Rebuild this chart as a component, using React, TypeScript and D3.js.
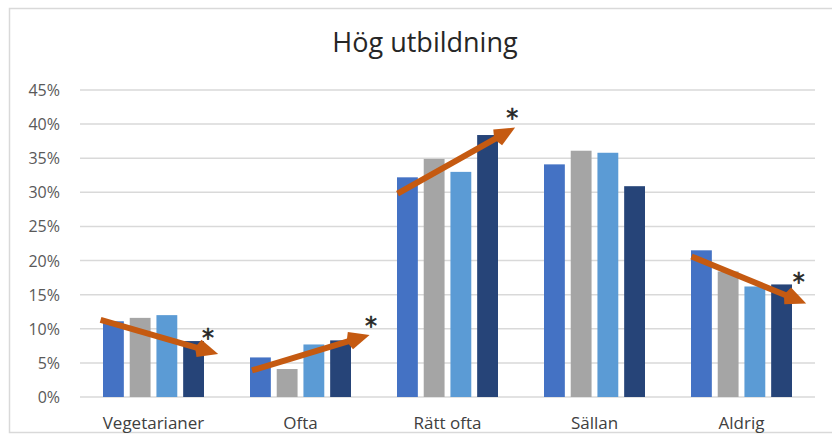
import * as d3 from "d3";
import React, { useEffect, useRef } from "react";

const categories = ["Vegetarianer", "Ofta", "Rätt ofta", "Sällan", "Aldrig"];
const seriesNames = ["s1", "s2", "s3", "s4"];
const seriesColors = ["#4472C4", "#A5A5A5", "#5B9BD5", "#264478"];
// values in percent, one array per series
const series1 = [11.1, 5.8, 32.2, 34.1, 21.5];
const series2 = [11.6, 4.1, 34.9, 36.1, 18.4];
const series3 = [12.0, 7.7, 33.0, 35.8, 16.2];
const series4 = [8.2, 8.3, 38.4, 30.9, 16.5];
const yTicks = [0, 5, 10, 15, 20, 25, 30, 35, 40, 45];

// trend arrows: category index, x offset (fraction of band), percent value
const arrowCat = [0, 1, 2, 4];
const arrowFrom = [[-0.36, 11.3], [-0.33, 3.9], [-0.34, 29.8], [-0.34, 20.6]];
const arrowTo = [[0.44, 6.3], [0.47, 9.1], [0.46, 39.5], [0.44, 13.7]];
// significance marker next to each arrow head (band fraction, percent)
const starAt = [[0.37, 8.8], [0.48, 10.5], [0.44, 41.1], [0.39, 17.0]];

const W = 832;
const H = 434;

export default function App() {
    const ref = useRef<SVGSVGElement>(null);

    useEffect(() => {
        const svg = d3.select(ref.current);
        svg.selectAll("*").remove();

        const left = 80, right = 815, top = 90, bottom = 397;
        const allSeries = [series1, series2, series3, series4];

        const x = d3.scaleBand().domain(categories).range([left, right]);
        const inner = d3
            .scaleBand()
            .domain(seriesNames)
            .range([0, 101])
            .paddingInner(0.22);
        const y = d3.scaleLinear().domain([0, 45]).range([bottom, top]);

        // frame
        svg.append("rect")
            .attr("x", 9.5)
            .attr("y", 8.5)
            .attr("width", 840)
            .attr("height", 424)
            .attr("fill", "white")
            .attr("stroke", "#D9D9D9")
            .attr("stroke-width", 1.5);

        svg.append("text")
            .attr("x", 425)
            .attr("y", 52)
            .attr("text-anchor", "middle")
            .attr("fill", "#262626")
            .style("font-family", "'Open Sans', sans-serif")
            .style("font-size", "27px")
            .text("Hög utbildning");

        // gridlines + y labels
        svg.append("g")
            .selectAll("line")
            .data(yTicks)
            .enter()
            .append("line")
            .attr("x1", left)
            .attr("x2", right)
            .attr("y1", (d) => y(d))
            .attr("y2", (d) => y(d))
            .attr("stroke", "#D9D9D9")
            .attr("stroke-width", 1.5);

        svg.append("g")
            .selectAll("text")
            .data(yTicks)
            .enter()
            .append("text")
            .attr("x", 60)
            .attr("y", (d) => y(d) + 6)
            .attr("text-anchor", "end")
            .attr("fill", "#595959")
            .style("font-family", "'Open Sans', sans-serif")
            .style("font-size", "16px")
            .text((d) => d + "%");

        // bars
        const groupOffset = (x.bandwidth() - 101) / 2;
        allSeries.forEach((vals, si) => {
            svg.append("g")
                .selectAll("rect")
                .data(vals)
                .enter()
                .append("rect")
                .attr("x", (d, i) => x(categories[i])! + groupOffset + inner(seriesNames[si])!)
                .attr("y", (d) => y(d))
                .attr("width", inner.bandwidth())
                .attr("height", (d) => bottom - y(d))
                .attr("fill", seriesColors[si]);
        });

        // category labels
        svg.append("g")
            .selectAll("text")
            .data(categories)
            .enter()
            .append("text")
            .attr("x", (d) => x(d)! + x.bandwidth() / 2)
            .attr("y", 429)
            .attr("text-anchor", "middle")
            .attr("fill", "#404040")
            .style("font-family", "'Open Sans', sans-serif")
            .style("font-size", "17px")
            .text((d) => d);

        // arrows
        const px = (ci: number, off: number) =>
            x(categories[ci])! + x.bandwidth() / 2 + off * x.bandwidth();
        arrowCat.forEach((ci, k) => {
            const x1 = px(ci, arrowFrom[k][0]);
            const y1 = y(arrowFrom[k][1]);
            const x2 = px(ci, arrowTo[k][0]);
            const y2 = y(arrowTo[k][1]);
            const ang = Math.atan2(y2 - y1, x2 - x1);
            const headL = 20, headW = 9;
            const bx = x2 - headL * Math.cos(ang);
            const by = y2 - headL * Math.sin(ang);
            const nx = -Math.sin(ang), ny = Math.cos(ang);
            svg.append("line")
                .attr("x1", x1)
                .attr("y1", y1)
                .attr("x2", bx)
                .attr("y2", by)
                .attr("stroke", "#C55A11")
                .attr("stroke-width", 6);
            svg.append("path")
                .attr(
                    "d",
                    `M${x2},${y2}L${bx + nx * headW},${by + ny * headW}L${bx - 4 * Math.cos(ang)},${by - 4 * Math.sin(ang)}L${bx - nx * headW},${by - ny * headW}Z`
                )
                .attr("fill", "#C55A11");
            // asterisk, centred on its point
            svg.append("text")
                .attr("x", px(ci, starAt[k][0]))
                .attr("y", y(starAt[k][1]) + 9)
                .attr("text-anchor", "middle")
                .attr("fill", "#262626")
                .attr("stroke", "#262626")
                .attr("stroke-width", 0.6)
                .style("font-family", "'DejaVu Sans', sans-serif")
                .style("font-size", "24px")
                .text("*");
        });
    }, []);

    return (
        <div style={{ position: "absolute", left: 0, top: 0 }}>
            <svg ref={ref} width={W} height={H} style={{ display: "block" }} />
        </div>
    );
}
